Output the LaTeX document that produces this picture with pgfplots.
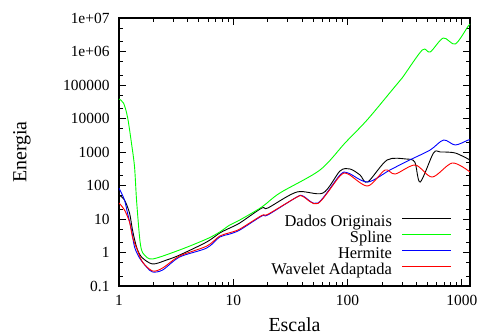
\documentclass[border=0pt]{standalone}
\usepackage{fontspec}
\setmainfont{Liberation Serif}
\usepackage{pgfplots}
\pgfplotsset{compat=1.18}
\begin{document}
\begin{tikzpicture}
\begin{axis}[
 name=ax,
 scale only axis, width=351bp, height=268bp,
 xmode=log, ymode=log,
 xmin=1, xmax=1180, ymin=0.1, ymax=1e7,
 xtick={1,10,100,1000}, xticklabels={1,10,100,1000},
 ytick={0.1,1,10,100,1000,10000,100000,1000000,10000000},
 yticklabels={0.1,1,10,100,1000,10000,100000,1e+06,1e+07},
 minor xtick={2,3,4,5,6,7,8,9,20,30,40,50,60,70,80,90,200,300,400,500,600,700,800,900},
 minor ytick={0.2,0.5,2,5,20,50,200,500,2000,5000,20000,50000,200000,500000,2000000,5000000},
 tick align=inside,
 major tick length=7bp, minor tick length=4bp,
 axis line style={line width=1.3bp},
 every tick/.style={black, line width=0.8bp},
 tick label style={font=\fontsize{15.5}{15.5}\selectfont},
 xticklabel style={yshift=-6bp},
 yticklabel style={xshift=-6bp},
 xlabel={Escala}, ylabel={Energia},
 label style={font=\fontsize{20}{20}\selectfont},
 xlabel style={at={(axis description cs:0.5,-0.143)}, anchor=center},
 ylabel style={at={(axis description cs:-0.2764,0.5)}, anchor=center},
 legend style={draw=none, fill=none, at={(axis description cs:1,0)}, anchor=south east,
   xshift=-18bp, yshift=7.4bp, font=\fontsize{16.5}{16.5}\selectfont,
   row sep=0pt, column sep=10bp, inner sep=0pt,
   nodes={inner sep=0pt, text height=11.5bp, text depth=4.3bp}},
 legend cell align=right,
 legend plot pos=right,
 legend image code/.code={\draw[#1] (0bp,4.5bp) -- (49bp,4.5bp);},
 every axis plot/.append style={line width=0.9bp, smooth},
]
\addplot[black] coordinates {
(1,52) (1.117,36.9) (1.236,15.1) (1.313,4.69) (1.424,1.46) (1.575,0.734)
(1.967,0.454) (2.61,0.597) (3.394,0.84) (5.855,2.06) (7.613,3.82) (9.318,5.38)
(11.40,7.6) (17.78,21.3) (20.07,21.3) (36.06,64) (61.0,59.7) (85.9,271)
(105.2,311) (128.7,206) (150,127) (222,577) (325,618) (388,502) (432.5,127)
(565,933) (648,1000) (877,933) (1180,577)};
\addlegendentry{Dados Originais}
\addplot[green] coordinates {
(1,38200) (1.095,29000) (1.187,11100) (1.287,1800) (1.368,356) (1.424,36.9)
(1.513,2.9) (1.575,1.19) (1.674,0.84) (1.967,0.64) (3.394,1.19) (5.855,2.53)
(7.613,4.09) (9.318,6.62) (11.40,9.33) (17.78,22.8) (25.58,59.7) (57.4,290)
(95.1,1860) (148.3,9020) (245.7,71000) (300.6,162000) (451,1110000)
(529,966000) (689,2530000) (877,1670000) (1140,5770000) (1180,6300000)};
\addlegendentry{Spline}
\addplot[blue] coordinates {
(1,84.1) (1.117,36.9) (1.187,15.1) (1.287,4.69) (1.368,1.46) (1.513,0.686)
(1.743,0.369) (1.967,0.262) (2.408,0.30) (3.394,0.734) (5.855,1.36) (7.613,2.9)
(9.318,3.56) (11.40,4.69) (17.78,12.3) (20.07,13.2) (36.06,45.4) (40.7,48.6)
(55.1,30) (85.9,206) (101,236) (150,127) (235,290) (350,577) (529,1148)
(692,2280) (877,1617) (1140,2280) (1180,2300)};
\addlegendentry{Hermite}
\addplot[red] coordinates {
(1,30) (1.117,18.6) (1.236,8.13) (1.313,2.9) (1.424,1.36) (1.607,0.52)
(1.967,0.281) (2.408,0.344) (3.394,0.787) (5.855,1.55) (7.613,3.1) (9.318,3.9)
(11.40,5.0) (17.78,12.8) (20.07,13.8) (36.06,45) (40.7,47) (55.1,29)
(85.9,192) (101,220) (150,96.6) (213,290) (261,220) (391,409) (551,179)
(826,470) (1180,253)};
\addlegendentry{Wavelet Adaptada}
\end{axis}
\pgfresetboundingbox
\path[use as bounding box] ([shift={(-119bp,-50bp)}]ax.south west) rectangle ([shift={(8bp,18bp)}]ax.north east);
\end{tikzpicture}
\end{document}
